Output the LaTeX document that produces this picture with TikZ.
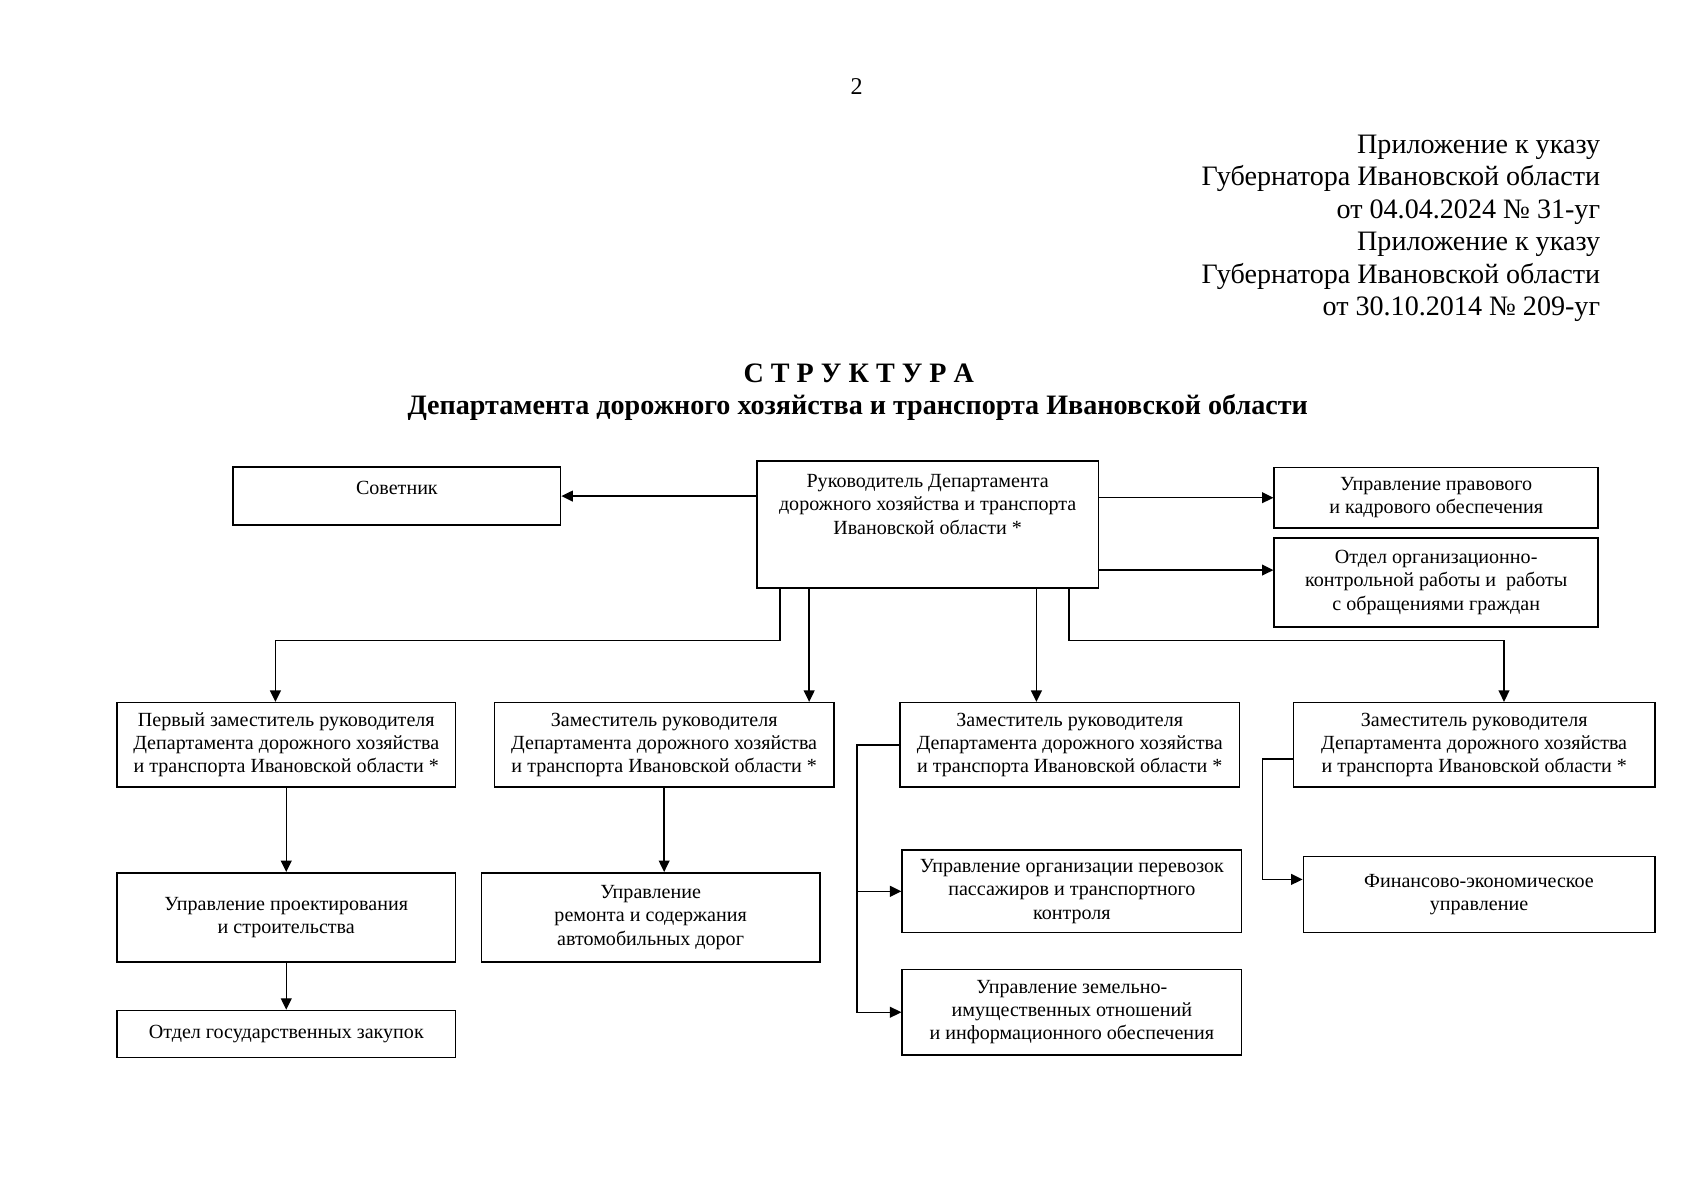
\documentclass[tikz,border=0pt]{standalone}
\usepackage{fontspec}
\setmainfont{Liberation Serif}
\usetikzlibrary{positioning, calc, arrows.meta}

\begin{document}
\begin{tikzpicture}[
  x=0.18978mm, y=-0.18978mm,
  unit/.style={draw, line width=0.8pt, align=center, inner sep=1pt, font=\fontsize{10}{11.6}\selectfont},
  link/.style={line width=0.7pt, -{Triangle[length=2mm, width=1.9mm]}}
]
  \useasboundingbox (0,0) rectangle (1565,1107);

  % page header
  \node[anchor=base, font=\fontsize{12}{14}\selectfont] (pagenum) at (790,87) {2};
  \node[anchor=north east, align=right, inner sep=0pt, font=\fontsize{14}{16.2}\selectfont] (decree) at (1476,124)
    {Приложение к указу\\Губернатора Ивановской области\\от 04.04.2024 № 31-уг\\Приложение к указу\\Губернатора Ивановской области\\от 30.10.2014 № 209-уг};
  \node[anchor=base, font=\fontsize{14}{16}\selectfont\bfseries] (title) at (792,353) {С Т Р У К Т У Р А};
  \node[anchor=base, font=\fontsize{14}{16}\selectfont\bfseries] (subtitle) at (791,382) {Департамента дорожного хозяйства и транспорта Ивановской области};

  % top level
  \node[unit, minimum width=59.8mm, minimum height=22.2mm] (head) at (855.5,483.5)
    {Руководитель Департамента\\дорожного хозяйства и транспорта\\Ивановской области *\\[8.4pt]\mbox{}};
  \node[unit, minimum width=57.3mm, minimum height=10.1mm] (sovetnik) at (366,457.5) {Советник\\[-3.6pt]\mbox{}};
  \node[unit, minimum width=56.7mm, minimum height=10.6mm] (pravo) at (1324.5,459) {Управление правового\\и кадрового обеспечения};
  \node[unit, minimum width=56.7mm, minimum height=15.6mm] (kontrol) at (1324.5,537) {Отдел организационно-\\контрольной работы и \ работы\\с обращениями граждан};

  % deputies
  \node[unit, minimum width=59.2mm, minimum height=14.8mm] (zamfirst) at (264,687) {Первый заместитель руководителя\\Департамента дорожного хозяйства\\и транспорта Ивановской области *};
  \node[unit, minimum width=59.4mm, minimum height=14.8mm] (zamtwo) at (612.5,687) {Заместитель руководителя\\Департамента дорожного хозяйства\\и транспорта Ивановской области *};
  \node[unit, minimum width=59.4mm, minimum height=14.8mm] (zamthree) at (986.5,687) {Заместитель руководителя\\Департамента дорожного хозяйства\\и транспорта Ивановской области *};
  \node[unit, minimum width=63.2mm, minimum height=14.8mm] (zamfour) at (1359.5,687) {Заместитель руководителя\\Департамента дорожного хозяйства\\и транспорта Ивановской области *};

  % departments
  \node[unit, minimum width=59.2mm, minimum height=15.6mm] (proekt) at (264,846) {Управление проектирования\\и строительства};
  \node[unit, minimum width=59.2mm, minimum height=8.2mm] (zakup) at (264,953.5) {Отдел государственных закупок};
  \node[unit, minimum width=59.2mm, minimum height=15.6mm] (remont) at (600,846) {Управление\\ремонта и содержания\\автомобильных дорог};
  \node[unit, minimum width=59.4mm, minimum height=14.4mm] (perevoz) at (988.5,822) {Управление организации перевозок\\пассажиров и транспортного\\контроля};
  \node[unit, minimum width=59.4mm, minimum height=15.0mm] (zemel) at (988.5,933.5) {Управление земельно-\\имущественных отношений\\и информационного обеспечения};
  \node[unit, minimum width=61.5mm, minimum height=13.3mm] (finans) at (1364,825) {Финансово-экономическое\\управление};

  % links from the head
  \draw[link] (head.west |- sovetnik.east) -- (sovetnik.east);
  \draw[link] (head.east |- pravo.west) -- (pravo.west);
  \coordinate (kontrolin) at ($(head.south east)+(0,-17)$);
  \draw[link] (kontrolin) -- (kontrolin -| kontrol.west);

  \coordinate (hA) at ($(head.south west)+(22,0)$);
  \coordinate (hB) at ($(head.south west)+(49,0)$);
  \coordinate (hC) at ($(head.south east)+(-58,0)$);
  \coordinate (hD) at ($(head.south east)+(-28,0)$);
  \draw[link] (hA) -- ++(0,48) -| ($(zamfirst.north)+(-10,0)$);
  \draw[link] (hB) -- (hB |- zamtwo.north);
  \draw[link] (hC) -- (hC |- zamthree.north);
  \draw[link] (hD) -- ++(0,48) -| ($(zamfour.north)+(27.5,0)$);

  % links from the deputies
  \draw[link] (zamfirst) -- (proekt);
  \draw[link] (proekt) -- (zakup);
  \draw[link] (zamtwo.south) -- (zamtwo.south |- remont.north);
  \draw[link] (zamthree.west) -- ++(-39,0) |- (perevoz.west);
  \draw[link] (zamthree.west) -- ++(-39,0) |- (zemel.west);
  \draw[link] ($(zamfour.west)+(0,13)$) -- ++(-28,0) |- ($(finans.west)+(0,-14)$);
\end{tikzpicture}
\end{document}
